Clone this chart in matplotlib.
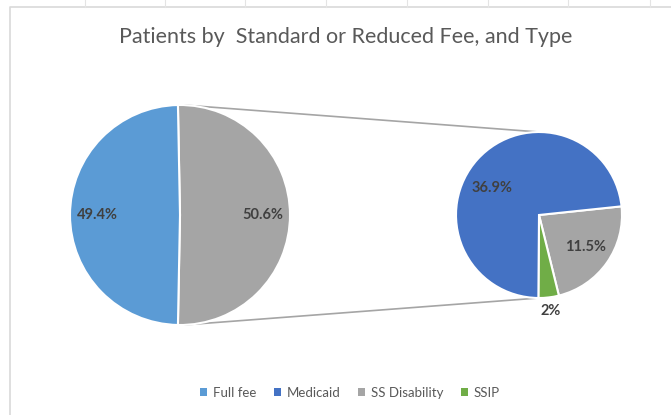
import matplotlib.pyplot as plt
from matplotlib.patches import Patch
import numpy as np

plt.rcParams['font.family'] = ['Lato', 'DejaVu Sans']

# Main pie (share of all patients, %)
main_labels = ['Full fee', 'Reduced fee']
main_values = [49.4, 50.6]

# Breakdown of the reduced-fee slice (share of all patients, %)
sub_labels = ['Medicaid', 'SS Disability', 'SSIP']
sub_values = [36.9, 11.5, 2.0]
sub_text = ['36.9%', '11.5%', '2%']

legend_labels = ['Full fee', 'Medicaid', 'SS Disability', 'SSIP']

colors = {'Full fee': '#5B9BD5', 'Reduced fee': '#A5A5A5',
          'Medicaid': '#4472C4', 'SS Disability': '#A5A5A5', 'SSIP': '#70AD47'}

W, H = 671, 415
fig = plt.figure(figsize=(W / 100, H / 100), dpi=100)
ax = fig.add_axes([0, 0, 1, 1])

# pixel-like coordinates, y up
c1, r1 = (180, 200), 110
c2, r2 = (539, 200), 83

# left pie: reduced-fee wedge centred on the right-hand side
reduced_span = main_values[1] / sum(main_values) * 360
start1 = reduced_span / 2
ax.pie(main_values[::-1], colors=[colors[l] for l in main_labels[::-1]],
       startangle=start1, counterclock=False, center=c1, radius=r1,
       wedgeprops=dict(edgecolor='white', linewidth=1.5), frame=True)

# right pie: gray, green then blue, clockwise from ~6 deg
order = [1, 2, 0]
start2 = 6
wedges, _ = ax.pie([sub_values[i] for i in order],
                   colors=[colors[sub_labels[i]] for i in order],
                   startangle=start2, counterclock=False, center=c2, radius=r2,
                   wedgeprops=dict(edgecolor='white', linewidth=1.5), frame=True)

lab_kw = dict(fontsize=10.5, fontweight='bold', color='#404040',
              ha='center', va='center')

# main pie labels
ang = start1
for lab, v in zip(main_labels[::-1], main_values[::-1]):
    span = v / sum(main_values) * 360
    mid = np.deg2rad(ang - span / 2)
    ax.text(c1[0] + 0.75 * r1 * np.cos(mid), c1[1] + 0.75 * r1 * np.sin(mid),
            f'{v:.1f}%', **lab_kw)
    ang -= span

# second pie labels (distance as fraction of radius, optional angle override)
label_dist = {'Medicaid': 0.65, 'SS Disability': 0.68, 'SSIP': 1.16}
label_ang = {'Medicaid': 150}
for w, i in zip(wedges, order):
    name = sub_labels[i]
    mid = label_ang.get(name, (w.theta1 + w.theta2) / 2)
    a = np.deg2rad(mid)
    d = label_dist[name] * r2
    ax.text(c2[0] + d * np.cos(a), c2[1] + d * np.sin(a), sub_text[i], **lab_kw)

# connector lines between the pies
for s in (1, -1):
    ax.plot([c1[0] + 3, c2[0]], [c1[1] + s * r1, c2[1] + s * r2],
            color='#A5A5A5', linewidth=1.2, zorder=0)

ax.text(346, 378, 'Patients by  Standard or Reduced Fee, and Type',
        fontsize=15.5, color='#595959', ha='center', va='center')

# chart area border and sheet gridline ticks
ax.plot([10, 10, W + 5], [0, 408, 408], color='#D9D9D9', linewidth=1.2)
for x in [85, 165, 245, 326, 407, 488, 568, 650]:
    ax.plot([x, x], [408, 415], color='#E4E4E4', linewidth=0.8)

ax.set_xlim(0, W)
ax.set_ylim(0, H)
ax.set_aspect('auto')
ax.axis('off')

handles = [Patch(facecolor=colors[l], edgecolor='none') for l in legend_labels]
fig.legend(handles, legend_labels, loc='center', bbox_to_anchor=(350 / W, 22 / H),
           ncol=4, frameon=False, fontsize=9.5, handlelength=0.55, handleheight=0.55,
           handletextpad=0.45, columnspacing=1.3, labelcolor='#595959')

fig.savefig('out.png', dpi=100)
